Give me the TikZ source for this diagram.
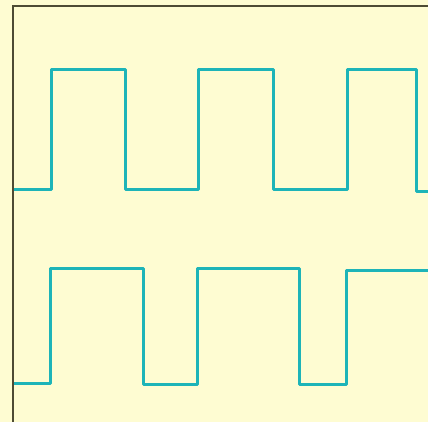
\documentclass[tikz,border=0pt]{standalone}
\usepackage{tikz}
\definecolor{ScopePaper}{HTML}{FEFCD2}
\definecolor{ScopeFrame}{HTML}{4E4B34}
\definecolor{TraceTeal}{HTML}{1DB4B8}

\begin{document}
\begin{tikzpicture}[x=1pt, y=-1pt]
      \fill[ScopePaper] (0,0) rectangle (428,422);
      \useasboundingbox (0,0) rectangle (428,422);
      %% Frame -- top and left edges
      \draw[ScopeFrame, line width=2pt] (13,422) -- (13,6) -- (428,6);
      %% Upper trace
      \draw[TraceTeal, line width=3pt, line join=round] (14,190) -- (51,190) -- (51,70) -- (125,70)
            -- (125,190) -- (198,190) -- (198,70) -- (273,70)
            -- (273,190) -- (347,190) -- (347,70) -- (416,70)
            -- (416,192) -- (428,192);
      %% Lower trace
      \draw[TraceTeal, line width=3pt, line join=round] (14,383) -- (50,383) -- (50,268) -- (143,268)
            -- (143,384) -- (197,384) -- (197,268) -- (299,268)
            -- (299,384) -- (346,384) -- (346,270) -- (428,270);
    \end{tikzpicture}
\end{document}
